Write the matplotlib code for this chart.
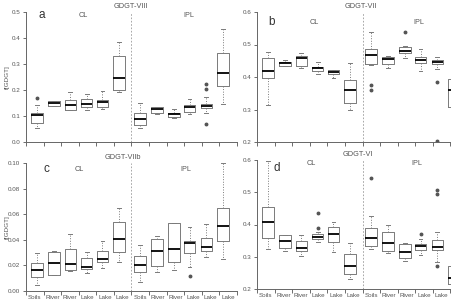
import matplotlib
matplotlib.use("Agg")
import matplotlib.pyplot as plt

plt.rcParams['font.family'] = ['Liberation Sans', 'DejaVu Sans']

groups = ["Soils", "River", "River", "Lake", "Lake", "Lake",
          "Soils", "River", "River", "Lake", "Lake", "Lake"]

# GDGT-VIII (panel a)
a_lo = [0.052, 0.137, 0.122, 0.125, 0.128, 0.193, 0.052, 0.106, 0.093, 0.106, 0.113, 0.146]
a_q1 = [0.073, 0.139, 0.125, 0.135, 0.135, 0.200, 0.064, 0.112, 0.097, 0.116, 0.129, 0.215]
a_med = [0.103, 0.149, 0.142, 0.148, 0.153, 0.245, 0.090, 0.128, 0.107, 0.133, 0.139, 0.267]
a_q3 = [0.110, 0.157, 0.161, 0.164, 0.161, 0.329, 0.110, 0.133, 0.113, 0.143, 0.148, 0.344]
a_hi = [0.144, 0.158, 0.192, 0.186, 0.197, 0.383, 0.151, 0.135, 0.126, 0.164, 0.174, 0.436]
a_out = [[0.170], [], [], [], [], [], [], [], [], [], [0.222, 0.202, 0.068], []]

# GDGT-VII (panel b)
b_lo = [0.313, 0.433, 0.429, 0.409, 0.396, 0.298, 0.437, 0.429, 0.458, 0.420, 0.425, 0.300]
b_q1 = [0.396, 0.435, 0.435, 0.420, 0.408, 0.319, 0.439, 0.439, 0.473, 0.442, 0.440, 0.308]
b_med = [0.419, 0.444, 0.460, 0.427, 0.416, 0.360, 0.468, 0.455, 0.480, 0.453, 0.445, 0.360]
b_q3 = [0.458, 0.447, 0.465, 0.432, 0.422, 0.390, 0.486, 0.463, 0.491, 0.463, 0.451, 0.393]
b_hi = [0.478, 0.451, 0.473, 0.445, 0.423, 0.442, 0.540, 0.464, 0.494, 0.487, 0.463, 0.450]
b_out = [[], [], [], [], [], [], [0.375, 0.360], [], [0.538], [], [0.386, 0.203], []]

# GDGT-VIIb (panel c)
c_lo = [0.0047, 0.0125, 0.0156, 0.0138, 0.0182, 0.0223, 0.0073, 0.0151, 0.0164, 0.0184, 0.0268, 0.0247]
c_q1 = [0.0106, 0.0125, 0.0164, 0.0169, 0.0223, 0.0301, 0.0145, 0.0195, 0.0223, 0.0299, 0.0314, 0.0392]
c_med = [0.0164, 0.0216, 0.0210, 0.0190, 0.0247, 0.0405, 0.0203, 0.0312, 0.0332, 0.0377, 0.0345, 0.0506]
c_q3 = [0.0216, 0.0306, 0.0332, 0.0255, 0.0312, 0.0540, 0.0275, 0.0405, 0.0535, 0.0392, 0.0416, 0.0652]
c_hi = [0.0294, 0.0310, 0.0449, 0.0306, 0.0390, 0.0652, 0.0358, 0.0429, 0.0535, 0.0500, 0.0527, 0.1000]
c_out = [[], [], [], [], [], [], [], [], [], [0.012], [], []]

# GDGT-VI (panel d)
d_lo = [0.324, 0.319, 0.302, 0.345, 0.314, 0.230, 0.324, 0.313, 0.287, 0.305, 0.285, 0.198]
d_q1 = [0.357, 0.326, 0.318, 0.354, 0.345, 0.247, 0.333, 0.318, 0.295, 0.321, 0.321, 0.214]
d_med = [0.409, 0.350, 0.326, 0.362, 0.370, 0.271, 0.357, 0.342, 0.316, 0.333, 0.331, 0.235]
d_q3 = [0.455, 0.367, 0.350, 0.370, 0.391, 0.307, 0.388, 0.378, 0.340, 0.340, 0.352, 0.271]
d_hi = [0.597, 0.367, 0.367, 0.376, 0.407, 0.344, 0.426, 0.400, 0.342, 0.355, 0.378, 0.323]
d_out = [[], [], [], [0.435, 0.388], [], [], [0.543], [], [], [0.370], [0.507, 0.494, 0.270], []]

# box centres are a little off the category slots in the original
box_pos = [1.13, 2.08, 3.02, 3.95, 4.85, 5.78, 7.0, 7.95, 8.9, 9.8, 10.76, 11.72]

grey = "#555555"
edge = "#7a7a7a"


def make_stats(lo, q1, med, q3, hi, out):
    return [dict(whislo=lo[i], q1=q1[i], med=med[i], q3=q3[i], whishi=hi[i], fliers=out[i])
            for i in range(len(med))]


def draw_panel(ax, stats, ylim, yticks, fmt, title, title_x, letter, letter_pos,
               cl_pos, ipl_pos, show_xlabels, ylabel):
    ax.bxp(stats, positions=box_pos, widths=0.66, capwidths=0.22, manage_ticks=False,
           boxprops=dict(color=edge, linewidth=0.7),
           medianprops=dict(color="black", linewidth=1.3),
           whiskerprops=dict(color=edge, linewidth=0.7, linestyle=":"),
           capprops=dict(color=edge, linewidth=0.7),
           flierprops=dict(marker="o", markersize=1.8, markerfacecolor=grey,
                           markeredgecolor=grey))
    ax.axvline(6.5, color="#999999", linestyle="--", linewidth=0.6, dashes=(2, 2))
    ax.set_xlim(0.5, 12.5)
    ax.set_ylim(*ylim)
    ax.set_yticks(yticks)
    ax.set_yticklabels([fmt % v for v in yticks])
    ax.set_xticks([i + 0.5 for i in range(0, 13)])
    ax.set_xticklabels([])
    ax.set_xticks(range(1, 13), minor=True)
    if show_xlabels:
        ax.set_xticklabels(groups, minor=True)
    else:
        ax.set_xticklabels([], minor=True)
    ax.tick_params(axis="x", which="minor", length=0, labelsize=4.5, colors=grey, pad=3)
    ax.tick_params(axis="x", which="major", length=3, width=0.6, color=grey)
    ax.tick_params(axis="y", length=2.5, width=0.6, color=grey, labelsize=4.5,
                   labelcolor=grey, pad=1.5)
    for s in ["top", "right"]:
        ax.spines[s].set_visible(False)
    for s in ["left", "bottom"]:
        ax.spines[s].set_color("#666666")
        ax.spines[s].set_linewidth(0.7)
    ax.patch.set_alpha(0)
    tr = ax.get_xaxis_transform()
    ax.text(title_x, 1.04, title, transform=tr, ha="center", va="center",
            fontsize=5.3, color=grey)
    ax.text(letter_pos[0], letter_pos[1], letter, transform=tr, ha="center",
            va="center", fontsize=8.5, color="#333333")
    ax.text(cl_pos[0], cl_pos[1], "CL", transform=tr, ha="center", va="center",
            fontsize=5.2, color=grey)
    ax.text(ipl_pos[0], ipl_pos[1], "IPL", transform=tr, ha="center", va="center",
            fontsize=5.2, color=grey)
    if ylabel:
        ax.set_ylabel("f[GDGT]", fontsize=4.6, color=grey)
        ax.yaxis.set_label_coords(-16.5 / 211, 0.5)


fig = plt.figure(figsize=(4.52, 3.01), dpi=100)
W = 211 / 452
ax_a = fig.add_axes([26 / 452, 159 / 301, W, 130 / 301])
ax_b = fig.add_axes([257 / 452, 159 / 301, W, 130 / 301])
ax_c = fig.add_axes([26 / 452, 10 / 301, W, 128 / 301])
ax_d = fig.add_axes([257 / 452, 12 / 301, W, 129 / 301])

draw_panel(ax_a, make_stats(a_lo, a_q1, a_med, a_q3, a_hi, a_out), (0, 0.5),
           [0.0, 0.1, 0.2, 0.3, 0.4, 0.5], "%.1f", "GDGT-VIII", 6.47,
           "a", (1.41, 0.975), (3.74, 0.97), (9.77, 0.97), False, True)
draw_panel(ax_b, make_stats(b_lo, b_q1, b_med, b_q3, b_hi, b_out), (0.2, 0.6),
           [0.2, 0.3, 0.4, 0.5, 0.6], "%.1f", "GDGT-VII", 6.4,
           "b", (1.35, 0.925), (3.74, 0.923), (9.7, 0.923), False, False)
draw_panel(ax_c, make_stats(c_lo, c_q1, c_med, c_q3, c_hi, c_out), (0, 0.1),
           [0.0, 0.02, 0.04, 0.06, 0.08, 0.10], "%.2f", "GDGT-VIIb", 6.0,
           "c", (1.69, 0.953), (3.51, 0.953), (9.6, 0.953), True, True)
draw_panel(ax_d, make_stats(d_lo, d_q1, d_med, d_q3, d_hi, d_out), (0.2, 0.6),
           [0.2, 0.3, 0.4, 0.5, 0.6], "%.1f", "GDGT-VI", 6.25,
           "d", (1.64, 0.94), (3.57, 0.969), (9.6, 0.969), True, False)

fig.savefig("out.png", dpi=100)
